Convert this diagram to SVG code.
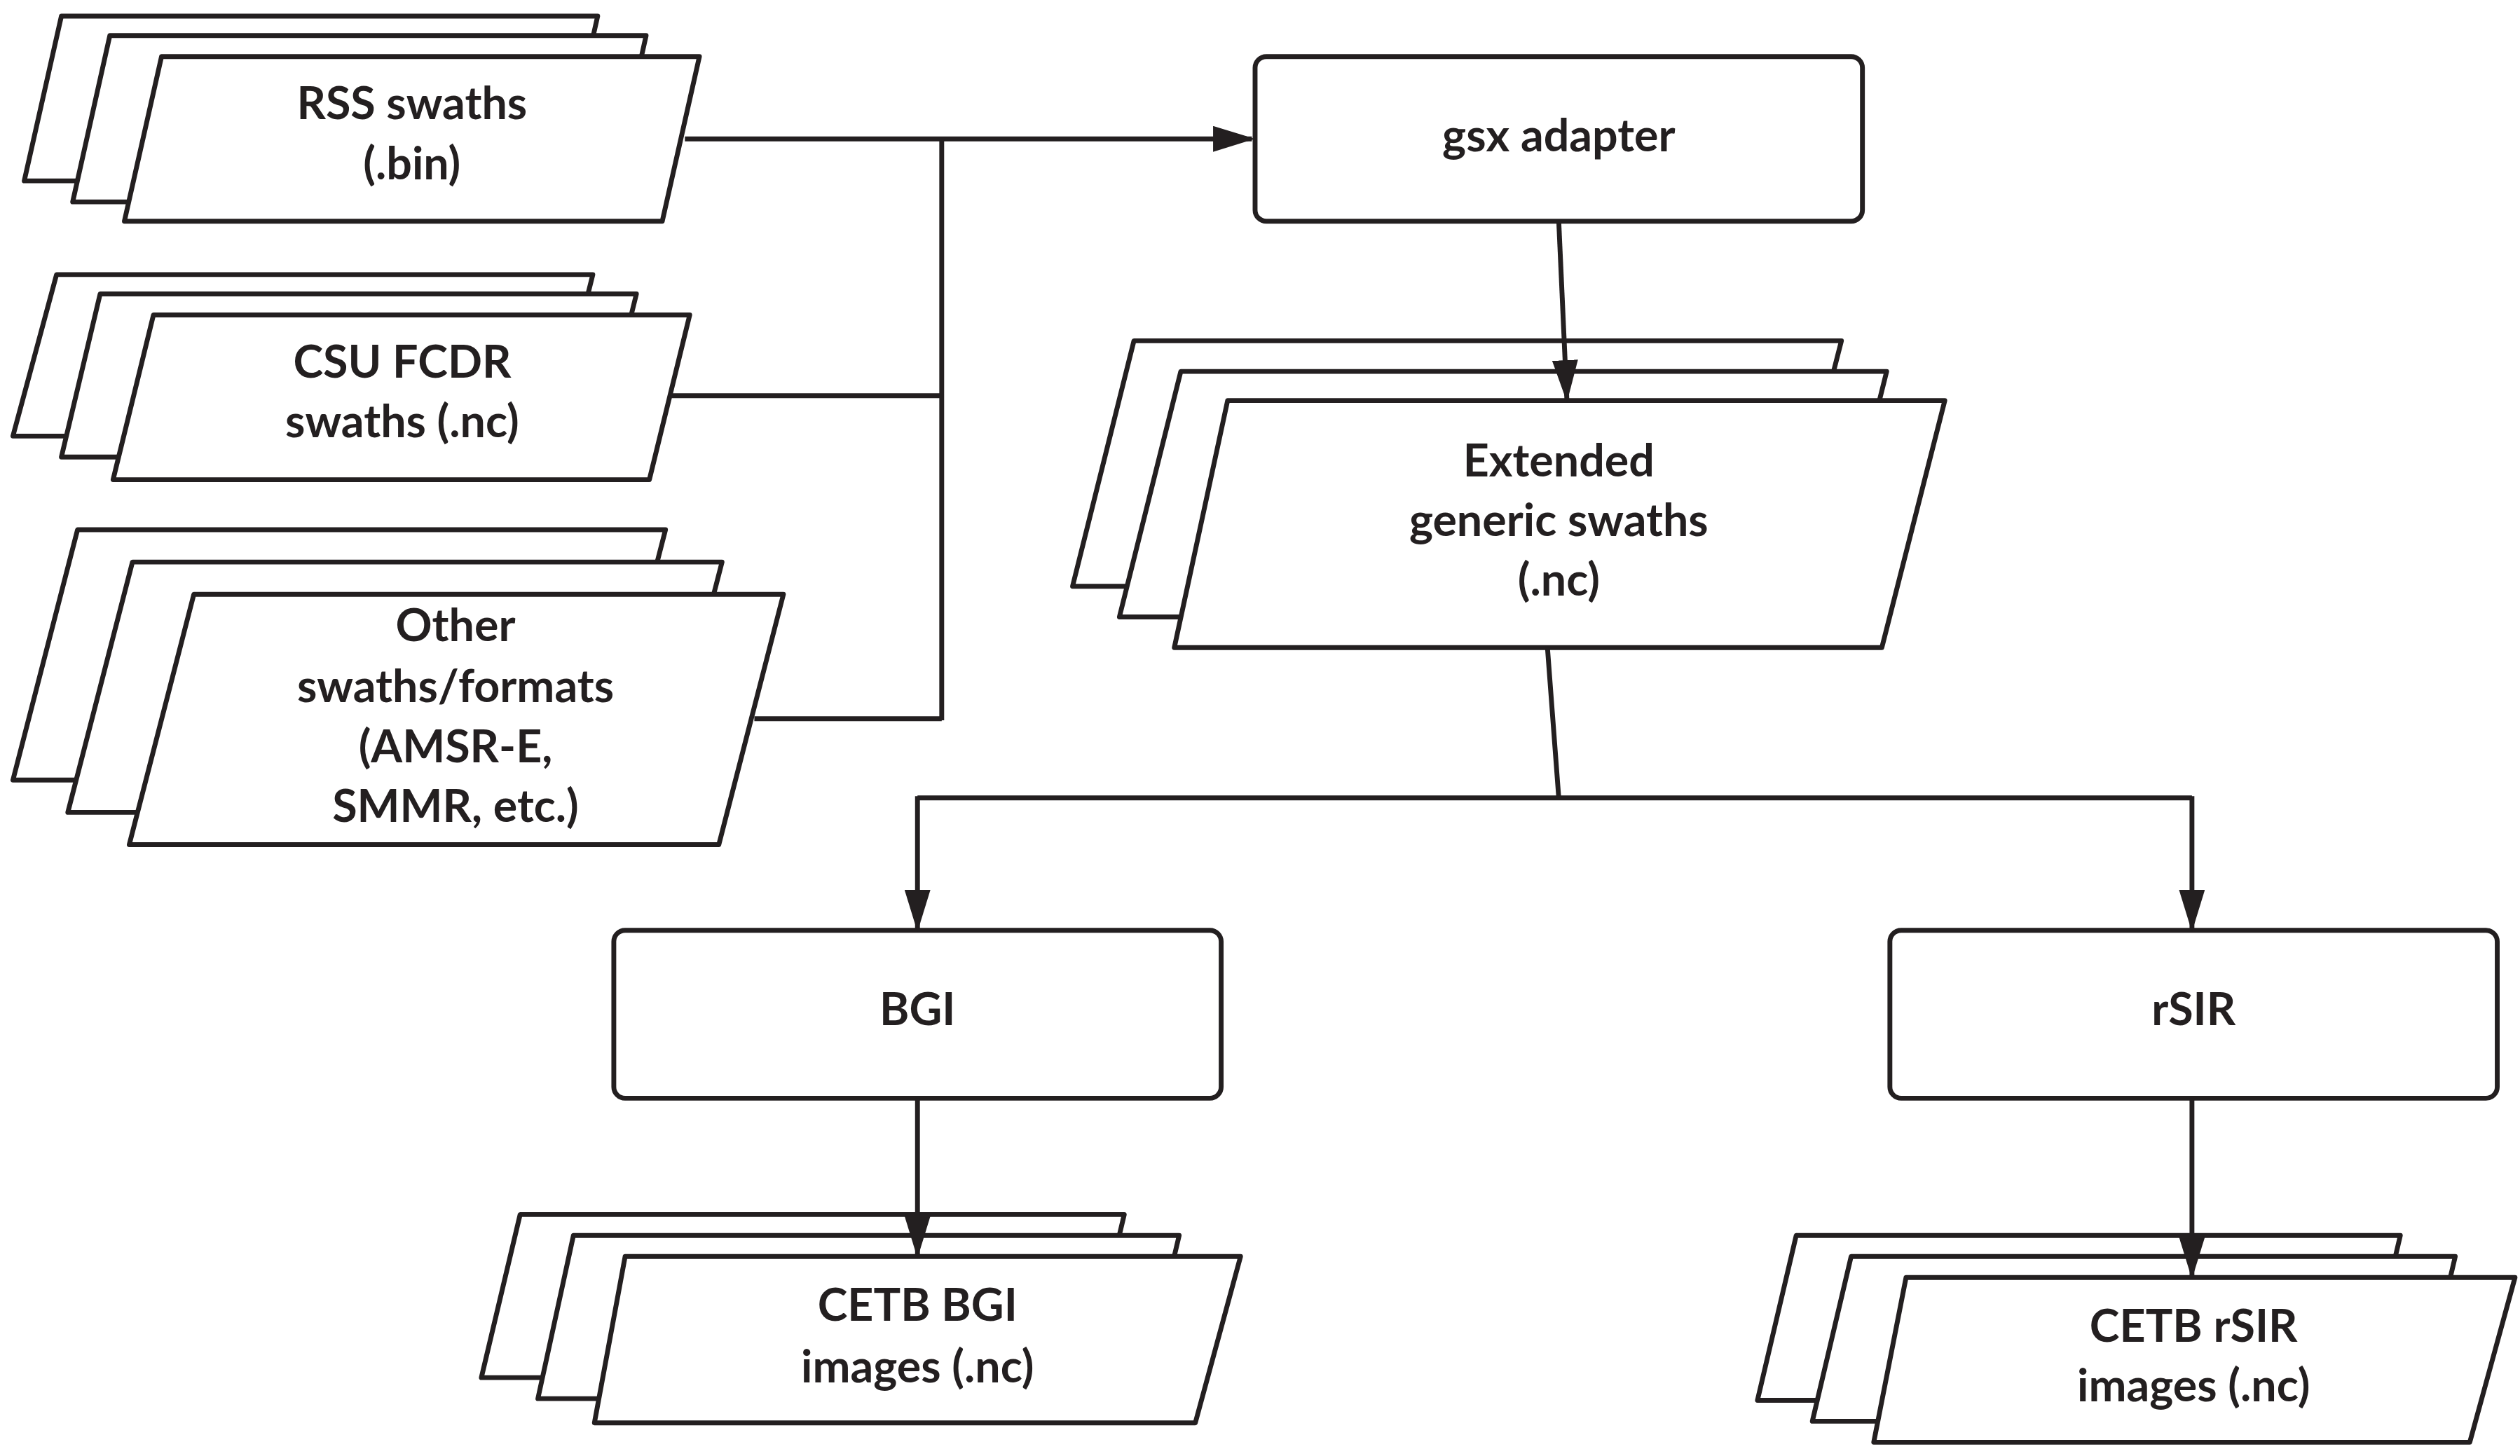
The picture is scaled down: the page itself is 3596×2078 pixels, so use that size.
<svg xmlns="http://www.w3.org/2000/svg" width="3596" height="2078" viewBox="0 0 3596 2078">
<style>
.s{fill:#fff;stroke:#231f20;stroke-width:3;stroke-linejoin:round}
.t{font-family:Lato,"Liberation Sans",sans-serif;font-weight:700;font-size:28px;fill:#231f20;text-anchor:middle;dominant-baseline:central}
.c{fill:none;stroke:#231f20;stroke-width:3}
</style>
<defs><marker id="a" markerUnits="userSpaceOnUse" markerWidth="26" markerHeight="16" refX="24" refY="8" orient="auto"><path d="M0,0L26,8L0,16Z" fill="#231f20"/></marker></defs>
<rect width="3596" height="2078" fill="#fff"/>
<g transform="scale(2.305)">
<g id="rss">
<polygon class="s" points="38,10 370,10 347,112 15,112"/>
<polygon class="s" points="68,22 400,22 377,125 45,125"/>
<polygon class="s" points="100,35 433,35 410,137 77,137"/>
<text class="t" x="255" y="63">RSS swaths</text><text class="t" x="255" y="100">(.bin)</text>
</g>
<g id="csu">
<polygon class="s" points="35,170 367,170 342,270 8,270"/>
<polygon class="s" points="62,182 394,182 369,283 38,283"/>
<polygon class="s" points="95,195 427,195 402,297 70,297"/>
<text class="t" x="249" y="223">CSU FCDR</text><text class="t" x="249" y="260">swaths (.nc)</text>
</g>
<g id="other">
<polygon class="s" points="48,328 412,328 372,483 8,483"/>
<polygon class="s" points="82,348 447,348 407,503 42,503"/>
<polygon class="s" points="120,368 485,368 445,523 80,523"/>
<text class="t" x="282" y="386">Other</text><text class="t" x="282" y="424">swaths/formats</text><text class="t" x="282" y="461">(AMSR-E,</text><text class="t" x="282" y="498">SMMR, etc.)</text>
</g>
<g id="gsx"><rect class="s" x="777" y="35" width="376" height="102" rx="7"/><text class="t" x="965" y="83">gsx adapter</text></g>
<g id="ext">
<polygon class="s" points="702,211 1140,211 1101,363 664,363"/>
<polygon class="s" points="731,230 1168,230 1130,382 693,382"/>
<polygon class="s" points="760,248 1204,248 1165,401 727,401"/>
<text class="t" x="965" y="284">Extended</text><text class="t" x="965" y="321">generic swaths</text><text class="t" x="965" y="358">(.nc)</text>
</g>
<g id="bgi"><rect class="s" x="380" y="576" width="376" height="104" rx="7"/><text class="t" x="568" y="624">BGI</text></g>
<g id="rsir"><rect class="s" x="1170" y="576" width="376" height="104" rx="7"/><text class="t" x="1358" y="624">rSIR</text></g>
<g id="cetbbgi">
<polygon class="s" points="322,752 696,752 672,853 298,853"/>
<polygon class="s" points="355,765 730,765 706,866 333,866"/>
<polygon class="s" points="387,778 768,778 740,881 368,881"/>
<text class="t" x="568" y="807">CETB BGI</text><text class="t" x="568" y="845">images (.nc)</text>
</g>
<g id="cetbrsir">
<polygon class="s" points="1112,765 1486,765 1462,867 1088,867"/>
<polygon class="s" points="1146,778 1520,778 1496,880 1122,880"/>
<polygon class="s" points="1180,791 1557,791 1529,893 1160,893"/>
<text class="t" x="1358" y="820">CETB rSIR</text><text class="t" x="1358" y="857">images (.nc)</text>
</g>
<g id="connectors">
<path class="c" d="M424,86H775" marker-end="url(#a)"/>
<path class="c" d="M415,245H583M467,445H583M583,86V446"/>
<path class="c" d="M965,137L970,247" marker-end="url(#a)"/>
<path class="c" d="M958,401L965,494M568,494H1357"/>
<path class="c" d="M568,493V575" marker-end="url(#a)"/>
<path class="c" d="M1357,493V575" marker-end="url(#a)"/>
<path class="c" d="M568,680V777" marker-end="url(#a)"/>
<path class="c" d="M1357,680V790" marker-end="url(#a)"/>
</g>
</g>
</svg>
